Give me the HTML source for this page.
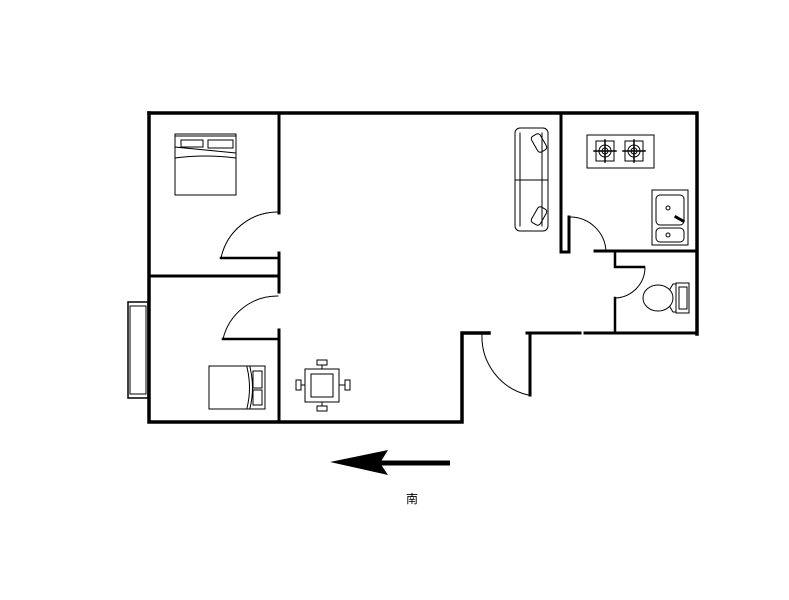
<!DOCTYPE html>
<html><head><meta charset="utf-8"><style>html,body{margin:0;padding:0;background:#fff;}svg{display:block}</style></head>
<body>
<svg width="789" height="600" viewBox="0 0 789 600" xmlns="http://www.w3.org/2000/svg">
<g fill="none" stroke="#000" stroke-linecap="square">
<!-- outer walls -->
<path d="M149 113 H697 V334" stroke-width="3.5"/>
<path d="M149 113 V422 H462 V333 H489" stroke-width="3.5"/>
<path d="M527 333 H580 M585 333 H697" stroke-width="3"/>
<path d="M530 333 V395" stroke-width="3"/>
<!-- bedroom divider -->
<path d="M279 113 V213 M279 253 V292 M279 330 V422" stroke-width="3"/>
<path d="M149 276 H279" stroke-width="3"/>
<!-- door leaves -->
<path d="M221 258 H279 M223 339 H279" stroke-width="2.5"/>
<path d="M221 258 A58 58 0 0 1 277 212" stroke-width="1"/>
<path d="M223 339 A56 56 0 0 1 278 296" stroke-width="1"/>
<!-- window -->
<rect x="128" y="302" width="20" height="96" stroke-width="1.5"/>
<rect x="130" y="306" width="16" height="88" stroke-width="1"/>
<!-- kitchen -->
<path d="M561 113 V252 H569 V217" stroke-width="3"/>
<path d="M595 251 H697" stroke-width="3"/>
<path d="M570 217 A36 36 0 0 1 606 252" stroke-width="1"/>
<!-- bathroom -->
<path d="M615 252 V267 H644" stroke-width="2.5"/>
<path d="M615 298 V333" stroke-width="2.5"/>
<path d="M645 268 A31 31 0 0 1 616 298" stroke-width="1"/>
<!-- entrance door -->
<path d="M482 334 A60 60 0 0 0 528 395" stroke-width="1"/>
<!-- beds -->
<g stroke-width="1">
<rect x="175" y="134" width="61" height="61"/>
<rect x="175" y="134" width="61" height="2"/>
<rect x="181" y="140" width="22" height="7"/>
<rect x="208" y="140" width="25" height="8"/>
<path d="M175 147 Q205 150 236 153 M175 158 Q205 154 236 158"/>
<rect x="209" y="366" width="56" height="43"/>
<path d="M247 367 Q252 388 247 408 M250 367 Q255 388 250 408"/>
<rect x="253" y="371" width="9" height="17"/>
<rect x="253" y="390" width="9" height="15"/>
<!-- table -->
<rect x="305" y="369" width="34" height="33"/>
<rect x="311" y="374" width="22" height="23"/>
<rect x="317" y="360" width="10" height="5"/><path d="M322 365 V369"/>
<rect x="317" y="406" width="10" height="5"/><path d="M322 402 V406"/>
<rect x="296" y="380" width="5" height="10"/><path d="M301 385 H305"/>
<rect x="345" y="380" width="5" height="10"/><path d="M339 385 H345"/>
<!-- sofa -->
<rect x="515" y="128" width="33" height="103" rx="5"/>
<path d="M515 180 H548 M520 133 V226 M542 133 V226"/>
<rect x="534" y="134" width="10" height="18" rx="3" transform="rotate(-30 539 143)"/>
<rect x="534" y="207" width="10" height="18" rx="3" transform="rotate(30 539 216)"/>
<!-- stove -->
<rect x="587" y="135" width="67" height="33"/>
<rect x="596" y="141" width="18" height="20"/>
<rect x="625" y="141" width="18" height="20"/>
<circle cx="605" cy="151" r="6"/><circle cx="605" cy="151" r="3"/>
<circle cx="634" cy="151" r="6"/><circle cx="634" cy="151" r="3"/>
<path d="M594 151 H616 M605 140 V162 M623 151 H645 M634 140 V162" stroke-width="1.5"/>
<!-- sink -->
<rect x="652" y="190" width="36" height="55"/>
<rect x="656" y="195" width="28" height="30" rx="4"/>
<rect x="656" y="228" width="28" height="14" rx="4"/>
<circle cx="668" cy="208" r="2"/><circle cx="668" cy="235" r="2"/>
<path d="M676 217 L683 221" stroke-width="3"/>
<!-- toilet -->
<ellipse cx="658" cy="298" rx="15" ry="13"/>
<path d="M670 289 L673 284 H676 V312 H673 L670 307"/>
<rect x="676" y="283" width="13" height="30"/>
<rect x="679" y="287" width="8" height="22"/>
</g>
</g>
<!-- arrow -->
<path d="M450 463 H378" stroke="#000" stroke-width="5"/>
<path d="M330 462 L388 450 L380 463 L388 475 Z" fill="#000"/>
<text x="412" y="503" font-family="'Liberation Sans','Noto Sans CJK SC',sans-serif" font-size="12" text-anchor="middle">南</text>
</svg>
</body></html>
